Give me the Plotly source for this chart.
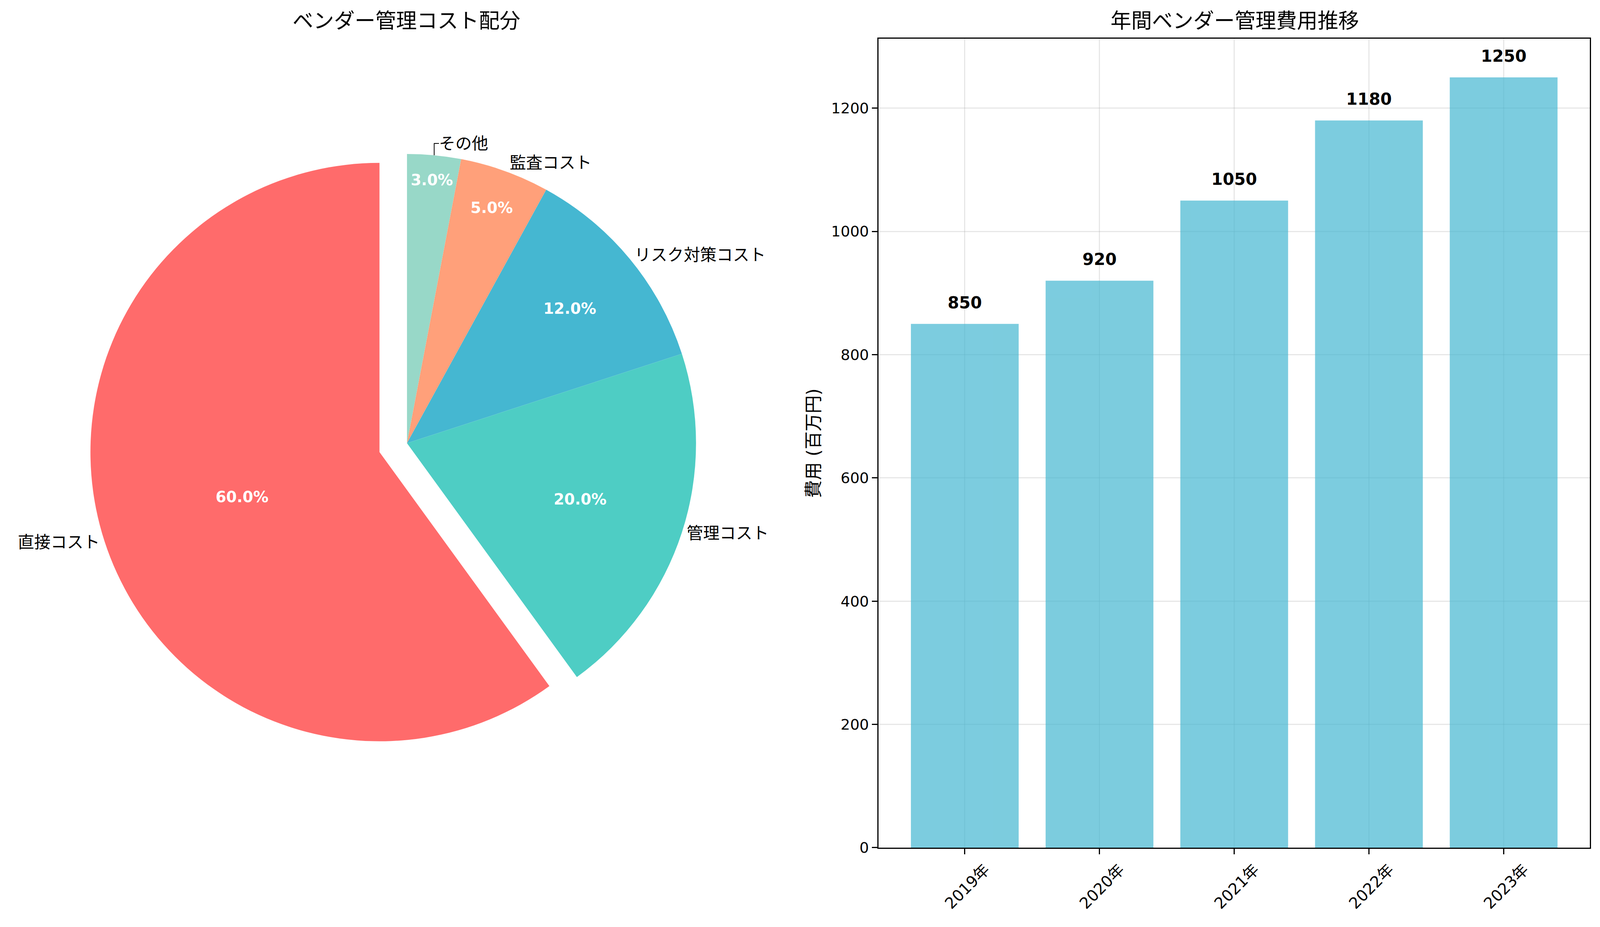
import plotly.graph_objects as go

# pie data
cost_labels = ['直接コスト', '管理コスト', 'リスク対策コスト', '監査コスト', 'その他']
cost_shares = [60, 20, 12, 5, 3]
cost_colors = ['#FF6B6B', '#4ECDC4', '#45B7D1', '#FFA07A', '#98D8C8']
pull_out = [0.1, 0, 0, 0, 0]

# bar data
years = ['2019年', '2020年', '2021年', '2022年', '2023年']
annual_costs = [850, 920, 1050, 1180, 1250]

# the browser viewport is 4096 wide, page body has an 8px margin
W, H = 4080, 2356
FONT = 'DejaVu Sans, Noto Sans CJK JP'

PIE_X = [0.0539, 0.4529]
PIE_Y = [0.1766, 0.8676]

fig = go.Figure()

# matplotlib goes counterclockwise from 12 o'clock; plotly does the same
# picture when the order is reversed and drawn clockwise
fig.add_trace(go.Pie(
    labels=cost_labels[::-1],
    values=cost_shares[::-1],
    marker=dict(colors=cost_colors[::-1]),
    pull=pull_out[::-1],
    sort=False,
    direction='clockwise',
    rotation=0,
    textinfo='percent',
    texttemplate='<b>%{percent:.1%}</b>',
    textposition='inside',
    insidetextorientation='horizontal',
    textfont=dict(color='white', size=39, family=FONT),
    domain=dict(x=PIE_X, y=PIE_Y),
    automargin=False,
    showlegend=False,
    hoverinfo='label+percent',
))

# transparent copy carrying the outside labels
fig.add_trace(go.Pie(
    labels=cost_labels[::-1],
    values=cost_shares[::-1],
    marker=dict(colors=['rgba(0,0,0,0)'] * len(cost_labels)),
    pull=pull_out[::-1],
    sort=False,
    direction='clockwise',
    rotation=0,
    textinfo='label',
    textposition='outside',
    textfont=dict(color='black', size=42, family=FONT),
    domain=dict(x=PIE_X, y=PIE_Y),
    automargin=False,
    showlegend=False,
    hoverinfo='skip',
))

fig.add_trace(go.Bar(
    x=list(range(len(years))),
    y=annual_costs,
    width=0.8,
    marker=dict(color='#45B7D1', line=dict(width=0)),
    opacity=0.7,
    showlegend=False,
    xaxis='x',
    yaxis='y',
))

annotations = [
    dict(text='ベンダー管理コスト配分', x=0.2530, y=0.9805, xref='paper', yref='paper',
         showarrow=False, xanchor='center', yanchor='middle', font=dict(size=53, family=FONT, color='black')),
    dict(text='年間ベンダー管理費用推移', x=0.7727, y=0.9805, xref='paper', yref='paper',
         showarrow=False, xanchor='center', yanchor='middle', font=dict(size=53, family=FONT, color='black')),
]
for i, v in enumerate(annual_costs):
    annotations.append(dict(
        text=f'<b>{v}</b>', x=i, y=v, xref='x', yref='y', showarrow=False,
        xanchor='center', yanchor='bottom', yshift=28,
        font=dict(size=42, family=FONT, color='black'),
    ))

axis_style = dict(
    ticks='outside', ticklen=14, tickwidth=3, tickcolor='black',
    showline=True, linecolor='black', linewidth=3, mirror=True,
    showgrid=True, gridcolor='rgba(176,176,176,0.3)', gridwidth=3,
    zeroline=False,
    automargin=False,
)

fig.update_layout(
    template='none',
    width=W,
    height=H,
    autosize=False,
    margin=dict(l=0, r=0, t=0, b=0, pad=0),
    paper_bgcolor='white',
    plot_bgcolor='white',
    font=dict(family=FONT, color='black'),
    uniformtext=dict(minsize=39, mode='show'),
    annotations=annotations,
    xaxis=dict(
        domain=[0.5493, 0.9956],
        range=[-0.64, 4.64],
        tickmode='array',
        tickvals=list(range(len(years))),
        ticktext=years,
        tickangle=-45,
        ticklabelshift=52,
        tickfont=dict(size=40, family=FONT),
        anchor='y',
        **axis_style,
    ),
    yaxis=dict(
        domain=[0.0828, 0.9612],
        range=[0, 1312.5],
        dtick=200,
        tickfont=dict(size=38, family=FONT),
        title=dict(text='費用 (百万円)', font=dict(size=46, family=FONT), standoff=15),
        anchor='x',
        **axis_style,
    ),
)

fig.write_html('out.html')
